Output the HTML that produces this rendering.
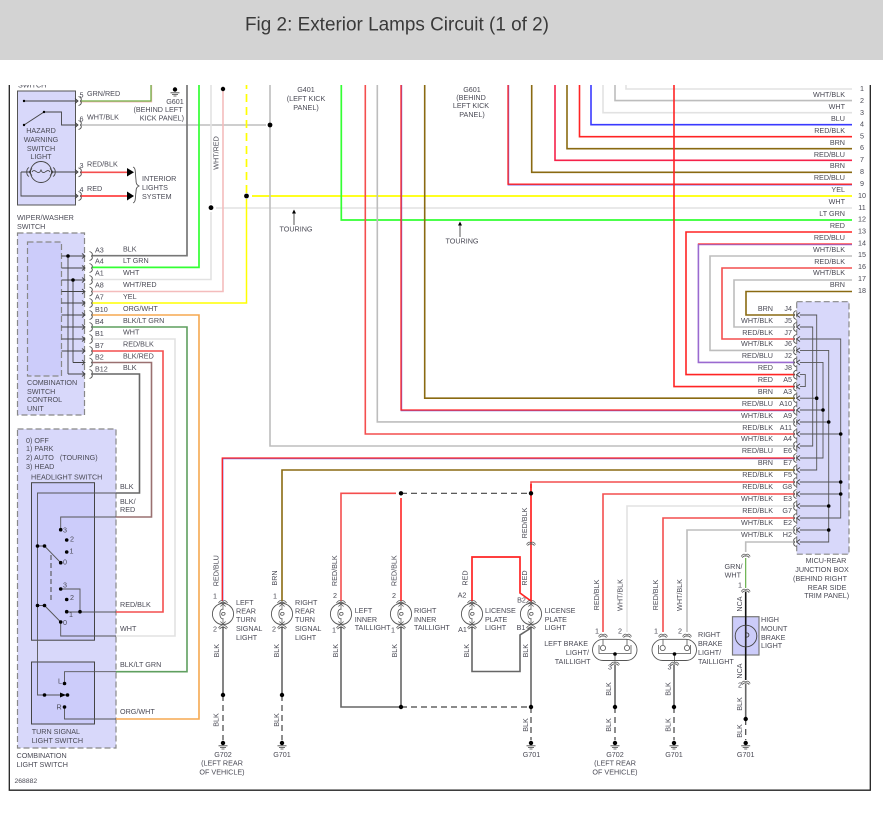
<!DOCTYPE html>
<html><head><meta charset="utf-8"><style>
html,body{margin:0;padding:0;background:#fff;width:883px;height:814px;overflow:hidden}
svg{display:block;position:absolute;left:0;top:0}
text{font-family:"Liberation Sans",sans-serif;font-size:7.2px;fill:#4a4a55;dominant-baseline:central}
.e{text-anchor:end}.m{text-anchor:middle}
.soft{filter:blur(.3px)}
.w{fill:none;stroke-width:1.6;stroke-linejoin:miter}
.red{stroke:#ff2424}.rb{stroke:#f44e4e}.rbl{stroke:#f5224a}.brn{stroke:#8a6a12}.blk{stroke:#666}.wb{stroke:#bdbdbd}.wht{stroke:#e2e2e2}.blu{stroke:#3a3aff}.yel{stroke:#ffff00;stroke-width:1.8}.grn{stroke:#33ff33;stroke-width:1.7}.org{stroke:#f5a850}.bg{stroke:#5f9f5f}.wr{stroke:#f4bcbc}
.in{fill:none;stroke:#444;stroke-width:.9}
.d{fill:#000}
.da{fill:none;stroke:#444;stroke-width:1.2;stroke-dasharray:6 4}
</style></head><body>
<svg width="883" height="814" viewBox="0 0 883 814" xmlns="http://www.w3.org/2000/svg">
<defs>
<clipPath id="cl"><rect x="0" y="85" width="883" height="729"/></clipPath>
<g id="c"><path d="M-1.5,-4.5C1.5,-3.5 2,-1.5 .5,0C2,1.5 1.5,3.5 -1.5,4.5" fill="none" stroke="#555" stroke-width=".9"/></g>
<g id="j"><path d="M1.5,-4.5C-1.5,-3.5 -2,-1.5 -.5,0C-2,1.5 -1.5,3.5 1.5,4.5" fill="none" stroke="#555" stroke-width=".9"/><path d="M5,-2.5L1.5,0L5,2.5" fill="none" stroke="#444" stroke-width=".9"/></g>
<g id="v"><path d="M-4.5,1.5C-3,-1 -1.5,-1.5 0,0C1.5,-1.5 3,-1 4.5,1.5M-3.5,2.6C-2,.8 -1,.6 0,1.2C1,.6 2,.8 3.5,2.6" fill="none" stroke="#555" stroke-width=".8"/></g>
<g id="l"><circle r="10.6" fill="#fff" stroke="#555" stroke-width=".9"/><path d="M0,-10V-4M0,10V4M-2.6,-7.5L0,-10L2.6,-7.5M-2.6,7.5L0,10L2.6,7.5" fill="none" stroke="#555" stroke-width=".7"/><path d="M-.5,-5C-4,-4 -4,3.5 -.5,5M-.5,-1.5C3,-2.5 3,2 -.5,1.2C-2,1 -1.5,-1 -.5,-1.5" fill="none" stroke="#555" stroke-width=".8"/><use href="#v" y="-12.5"/><use href="#v" y="12.5"/></g>
<g id="g"><circle r="2.2" fill="#000"/><path d="M-4.5,2.8H4.5M-3,4.4H3M-1.5,6H1.5" stroke="#444" stroke-width=".8"/></g>
</defs>

<rect x="0" y="0" width="883" height="60" fill="#d3d3d3"/>
<text x="245" y="25" style="font-size:19.2px;fill:#3a3a3a" textLength="304" lengthAdjust="spacingAndGlyphs">Fig 2: Exterior Lamps Circuit (1 of 2)</text>

<g class="soft">
<path d="M9.3,85V790.2H870.3V85" fill="none" stroke="#222" stroke-width="1.3"/>

<!-- boxes -->
<rect x="17.5" y="91" width="58" height="114" fill="#d8d8fa" stroke="#555" stroke-width="1"/>
<rect x="17.5" y="233" width="67" height="182" fill="#d8d8fa" stroke="#888" stroke-width="1.2" stroke-dasharray="6 3"/>
<rect x="27.5" y="242" width="34" height="134" fill="#ccccfa" stroke="#888" stroke-width="1.2" stroke-dasharray="6 3"/>
<rect x="17.5" y="429" width="98.5" height="319" fill="#d8d8fa" stroke="#888" stroke-width="1.2" stroke-dasharray="6 3"/>
<rect x="31.5" y="482.7" width="63" height="157.5" fill="#ccccfa" stroke="#444" stroke-width="1"/>
<rect x="31.5" y="662" width="63" height="62" fill="#ccccfa" stroke="#444" stroke-width="1"/>
<rect x="796.7" y="301.7" width="52.3" height="252.5" fill="#d8d8fa" stroke="#888" stroke-width="1.2" stroke-dasharray="6 3"/>
<rect x="732.5" y="616.7" width="26.5" height="38.3" fill="#ccccfa" stroke="#777" stroke-width="1.2"/>

<!-- top right rows -->
<path class="w wht" d="M626,85V89H852"/>
<path class="w wb" d="M615,85V100.6H852"/>
<path class="w wht" d="M603,85V112.7H852"/>
<path class="w blu" d="M591,85V124.7H852"/>
<path class="w red" d="M579.5,85V136.7H852"/>
<path class="w brn" d="M567,85V148.7H852"/>
<path class="w rbl" d="M555,85V160.3H852"/>
<path class="w brn" d="M531.7,85V172.3H852"/>
<path fill="none" stroke="#7a6ae0" stroke-width="1.6" d="M508.4,85V184.7H852"/>
<path class="w red" style="stroke-width:1.3" d="M508,85V184.2H852"/>
<path class="w yel" d="M252,196H852"/>
<path class="w wht" d="M216,208H852"/>
<path class="w grn" d="M341.3,85V220H852"/>
<path class="w red" d="M674,85V386.6H795"/>
<path class="w red" d="M852,232H686V374.6H795"/>
<path fill="none" stroke="#9a6ad0" stroke-width="1.6" d="M852,244.4H698.4V362.4H795"/>
<path class="w red" style="stroke-width:.8" d="M852,243.8H698"/>
<path class="w wb" d="M852,256H710V350.4H795"/>
<path class="w rb" d="M852,268H722V339H795"/>
<path class="w wb" d="M852,280H734V327H795"/>
<path class="w brn" d="M852,291.5H746V315H795"/>
<path class="w brn" d="M424.7,85V398.2H795"/>
<path fill="none" stroke="#7a6ae0" stroke-width="1.6" d="M401.4,85V410.4H795"/>
<path class="w red" style="stroke-width:1.3" d="M401,85V410H795"/>
<path class="w wb" d="M377.3,85V421.9H795"/>
<path class="w rb" d="M365.3,85V434H795"/>
<path class="w wb" d="M270,85V446H795"/>
<path fill="none" stroke="#7a6ae0" stroke-width="1.6" d="M795,458.4H222.6V601"/>
<path class="w red" style="stroke-width:1.3" d="M795,458H222.3V601"/>
<path class="w brn" d="M795,470H282V601"/>
<path class="w rb" d="M795,482H531V488"/>
<path class="w rb" d="M795,494H603V632"/>
<path class="w wht" d="M795,506H627V632"/>
<path class="w rb" d="M795,518H663V632"/>
<path class="w wb" d="M795,530H687V632"/>
<path class="w wb" d="M795,542H745.7V552"/>
<path fill="none" stroke="#5aa83a" stroke-width="1.1" d="M745.7,558V588"/>
<path fill="none" stroke="#111" stroke-width="1.6" d="M745.7,592V680"/>
<path class="w blk" d="M745.7,684V719"/>

<!-- left top -->
<path fill="none" stroke="#f4c0c0" stroke-width="1" d="M80,102H151.7V85"/>
<path fill="none" stroke="#6fae42" stroke-width="1.3" d="M80,101H151V85"/>
<path class="w wb" d="M80,125H266"/>
<path class="w rb" d="M80,172.3H128"/>
<path class="w red" d="M80,196H128"/>
<path class="w blk" style="stroke:#777;stroke-width:1.7" d="M92,255.7H187V85"/>
<path class="w grn" d="M92,267.4H199V85"/>
<path class="w wht" d="M92,279.5H211V212"/>
<path class="w wht" d="M211,204V85"/>
<path class="w wr" d="M92,291.5H223V89"/>
<path class="w yel" style="stroke-width:1.5" d="M92,303H246.5V199"/>
<path fill="none" stroke="#ffff00" stroke-width="1.7" stroke-dasharray="8 5" d="M246.5,193V85"/>
<path class="w org" d="M92,315H199V719H116"/>
<path class="w bg" d="M92,327H187V671.7H116"/>
<path class="w wht" d="M92,339H175V636H116"/>
<path class="w rb" d="M92,351H163V612H116"/>
<path class="w" style="stroke:#9a7070" d="M92,362.5H151.5V517H116"/>
<path class="w blk" d="M92,374H139.5V493H116"/>

<!-- dashes and lower wires -->
<path class="w rb" d="M341,601V493.3H396"/>
<path class="w red" d="M401,498V601"/>
<path class="w blk" d="M341,627V707H401"/>
<path class="w blk" d="M401,627V707"/>
<path class="w red" style="stroke-width:1.7" d="M531,484V601L520,593V557H472V601"/>
<path class="w blk" d="M472,627V671.5H520V635L531,628"/>
<path class="w blk" d="M531,627V707"/>
<path class="w blk" d="M223,627V695"/>
<path class="w blk" d="M282,627V695"/>
<path class="w blk" d="M615,665V707"/>
<path class="w blk" d="M674,665V707"/>
<g class="da">
<path d="M401,493.3H531"/><path d="M401,707H531"/>
<path d="M223,695V740"/><path d="M282,695V740"/><path d="M531,707V740"/><path d="M615,707V740"/><path d="M674,707V740"/><path d="M745.7,719V740"/>
</g>

<!-- hazard switch internals -->
<g class="in">
<path d="M24,101H78"/><path d="M75,98.5L78,101L75,103.5"/>
<path d="M24,125L44,112H61.5V125H78"/><path d="M75,122.5L78,125L75,127.5"/>
<circle cx="41" cy="172" r="10.5"/>
<path d="M51,172H78M21,172V196H78M21,172H31M32,172C35,167 38,177 41,170C44,177 47,167 50,172"/>
<path d="M75,169.5L78,172L75,174.5M75,193.5L78,196L75,198.5"/>
<path d="M29,167.5C26,169 26,175 29,176.5M53,167.5C56,169 56,175 53,176.5M32,168.5L29,172L32,175.5M50,168.5L53,172L50,175.5"/>
</g>
<circle class="d" cx="24" cy="101" r="1.2"/><circle class="d" cx="24" cy="125" r="1.2"/><circle class="d" cx="44" cy="112" r="1.2"/>
<path d="M127,168L134,172.3L127,176.5Z M127,191.5L134,196L127,200.5Z" fill="#000"/>
<path d="M133,167C136,168 135,172 136,180C136,184 137,185 139,186C137,187 136,188 136,192C135,198 136,202 133,203" fill="none" stroke="#555" stroke-width=".9"/>
<use href="#c" x="80" y="101"/><use href="#c" x="80" y="125"/><use href="#c" x="80" y="172.3"/><use href="#c" x="80" y="196"/>

<!-- control unit internals -->
<g class="in">
<path d="M61.5,256H85M61.5,268H85M61.5,280H85M61.5,291.5H85M61.5,303H85M61.5,315H85M61.5,327H85M61.5,339H85M61.5,351H85M73,362.5H85M68,374H85"/>
<path d="M68,256V374M73,280V362.5"/>
<path d="M82,253.5L85,256L82,258.5M82,265.5L85,268L82,270.5M82,277.5L85,280L82,282.5M82,289L85,291.5L82,294M82,300.5L85,303L82,305.5M82,312.5L85,315L82,317.5M82,324.5L85,327L82,329.5M82,336.5L85,339L82,341.5M82,348.5L85,351L82,353.5M82,360L85,362.5L82,365M82,371.5L85,374L82,376.5"/>
</g>
<circle class="d" cx="68" cy="256" r="1.8"/><circle class="d" cx="73" cy="280" r="1.8"/>
<use href="#c" x="91" y="256"/><use href="#c" x="91" y="268"/><use href="#c" x="91" y="280"/><use href="#c" x="91" y="291.5"/><use href="#c" x="91" y="303"/><use href="#c" x="91" y="315"/><use href="#c" x="91" y="327"/><use href="#c" x="91" y="339"/><use href="#c" x="91" y="351"/><use href="#c" x="91" y="362.5"/><use href="#c" x="91" y="374"/>

<!-- headlight switch internals -->
<g class="in" style="stroke:#555">
<path d="M116,493H37.5V695H67.5"/>
<path d="M116,517H60.7V529.7"/>
<path d="M37.5,546H44.5L60.7,562.7"/>
<path d="M37.5,605.5H44.5L60.7,622"/>
<path d="M60.7,589H80V611.7"/>
<path d="M66.7,612H116"/>
<path d="M60.7,622V636H116"/>
<path d="M51,555V600" stroke-dasharray="5 3" style="stroke-width:1.1"/>
<path d="M116,671.7H64.5V683.5"/>
<path d="M116,719H64.5V707"/>
</g>
<path d="M60,692.5L66,695L60,697.5Z" fill="#000"/>
<g class="d">
<circle cx="60.7" cy="529.7" r="1.8"/><circle cx="66.7" cy="540" r="1.8"/><circle cx="66.7" cy="552" r="1.8"/><circle cx="60.7" cy="562.7" r="1.8"/>
<circle cx="37.5" cy="546" r="1.8"/><circle cx="44.5" cy="546" r="1.8"/><circle cx="37.5" cy="605.5" r="1.8"/><circle cx="44.5" cy="605.5" r="1.8"/>
<circle cx="60.7" cy="589" r="1.8"/><circle cx="66.7" cy="599.5" r="1.8"/><circle cx="66.7" cy="611.7" r="1.8"/><circle cx="60.7" cy="622" r="1.8"/><circle cx="80" cy="611.7" r="1.8"/>
<circle cx="64.5" cy="683.5" r="1.8"/><circle cx="64.5" cy="707" r="1.8"/><circle cx="44.5" cy="695" r="1.8"/><circle cx="67.5" cy="695" r="1.8"/>
</g>

<!-- junction internals -->
<g class="in" style="stroke:#555">
<path d="M800,315H816.7V470H800"/>
<path d="M800,327H812.7V446H800"/>
<path d="M800,339H840.7V518H800"/>
<path d="M800,350.4H828.7V542H800"/>
<path d="M800,362.4H823V458H800"/>
<path d="M800,374.6H805.3V386.6H800"/>
<path d="M800,398.2H816.7M800,410H823M800,422H828.7M800,434H840.7M800,482H840.7M800,494H840.7M800,506H828.7M800,530H828.7"/>
</g>
<g class="d">
<circle cx="816.7" cy="398.2" r="1.8"/><circle cx="823" cy="410" r="1.8"/><circle cx="828.7" cy="422" r="1.8"/><circle cx="840.7" cy="434" r="1.8"/><circle cx="840.7" cy="482" r="1.8"/><circle cx="840.7" cy="494" r="1.8"/><circle cx="828.7" cy="506" r="1.8"/><circle cx="828.7" cy="530" r="1.8"/>
</g>
<use href="#j" x="795" y="315"/><use href="#j" x="795" y="327"/><use href="#j" x="795" y="339"/><use href="#j" x="795" y="350.4"/><use href="#j" x="795" y="362.4"/><use href="#j" x="795" y="374.6"/><use href="#j" x="795" y="386.6"/><use href="#j" x="795" y="398.2"/><use href="#j" x="795" y="410"/><use href="#j" x="795" y="422"/><use href="#j" x="795" y="434"/><use href="#j" x="795" y="446"/><use href="#j" x="795" y="458"/><use href="#j" x="795" y="470"/><use href="#j" x="795" y="482"/><use href="#j" x="795" y="494"/><use href="#j" x="795" y="506"/><use href="#j" x="795" y="518"/><use href="#j" x="795" y="530"/><use href="#j" x="795" y="542"/>

<!-- lamps -->
<use href="#l" x="223" y="614"/><use href="#l" x="282" y="614"/><use href="#l" x="341" y="614"/><use href="#l" x="401" y="614"/><use href="#l" x="472" y="614"/><use href="#l" x="531" y="614"/>
<use href="#v" x="531" y="543"/><use href="#v" x="745.7" y="555"/><use href="#v" x="745.7" y="590"/><use href="#v" x="745.7" y="682"/>
<circle cx="746" cy="636" r="10.8" fill="none" stroke="#444" stroke-width=".9"/>
<path d="M745.7,626V646M745.7,633C750,632 750,638 745.7,637" fill="none" stroke="#333" stroke-width=".8"/>

<!-- brake lights -->
<g fill="#fff" stroke="#555" stroke-width=".9">
<rect x="592.5" y="639.3" width="44.5" height="21.2" rx="10.6"/>
<rect x="652" y="639.3" width="44.5" height="21.2" rx="10.6"/>
</g>
<g fill="none" stroke="#555" stroke-width=".8">
<path d="M599,645V653.5H631V645M615,653.5V662"/>
<path d="M658.5,645V653.5H690.5V645M674.5,653.5V662"/>
<circle cx="603" cy="648" r="2.6"/><circle cx="627" cy="648" r="2.6"/><circle cx="662.7" cy="648" r="2.6"/><circle cx="687" cy="648" r="2.6"/>
<path d="M603,639V645.5M627,639V645.5M663,639V645.5M687,639V645.5"/>
</g>
<circle class="d" cx="615" cy="654" r="1.8"/><circle class="d" cx="674.5" cy="654" r="1.8"/>
<use href="#v" x="603" y="635"/><use href="#v" x="627" y="635"/><use href="#v" x="663" y="635"/><use href="#v" x="687" y="635"/><use href="#v" x="615" y="663"/><use href="#v" x="674.5" y="663"/>

<!-- dots -->
<g class="d">
<circle cx="175" cy="89.5" r="2.2"/>
<circle cx="223" cy="89" r="2.2"/><circle cx="270" cy="125" r="2.4"/><circle cx="246.5" cy="196" r="2.4"/><circle cx="211" cy="207.7" r="2.4"/>
<circle cx="401" cy="493.3" r="2.2"/><circle cx="531" cy="493.3" r="2.2"/><circle cx="401" cy="707" r="2.2"/><circle cx="531" cy="707" r="2.2"/>
<circle cx="223" cy="695" r="2.2"/><circle cx="282" cy="695" r="2.2"/><circle cx="615" cy="707" r="2.2"/><circle cx="674" cy="707" r="2.2"/><circle cx="745.7" cy="719" r="2.2"/>
</g>
<path d="M170.5,92.8H179.5M172,94.4H178M173.5,96H176.5" stroke="#444" stroke-width=".8"/>
<use href="#g" x="223" y="743"/><use href="#g" x="282" y="743"/><use href="#g" x="531" y="743"/><use href="#g" x="615" y="743"/><use href="#g" x="674" y="743"/><use href="#g" x="745.7" y="743"/>

<!-- touring arrows -->
<path d="M294,225V213" stroke="#444" stroke-width=".9"/><path d="M294,209.5L296,213.5H292Z" fill="#000"/>
<path d="M460,237V225" stroke="#444" stroke-width=".9"/><path d="M460,221.5L462,225.5H458Z" fill="#000"/>

<!-- text: hazard -->
<text x="18" y="85" clip-path="url(#cl)">SWITCH</text>
<text x="79.5" y="95">5</text><text x="79.5" y="119">6</text><text x="79.5" y="165.5">3</text><text x="79.5" y="189.5">4</text>
<text x="87" y="93.3">GRN/RED</text><text x="87" y="117">WHT/BLK</text><text x="87" y="164">RED/BLK</text><text x="87" y="188.5">RED</text>
<text class="m" x="175" y="101.3">G601</text><text class="m" x="158" y="109.5">(BEHIND LEFT</text><text class="e" x="184" y="118">KICK PANEL)</text>
<text class="m" x="41" y="130.5">HAZARD</text><text class="m" x="41" y="139.5">WARNING</text><text class="m" x="41" y="148.5">SWITCH</text><text class="m" x="41" y="156.5">LIGHT</text>
<text x="142" y="178.7">INTERIOR</text><text x="142" y="187.7">LIGHTS</text><text x="142" y="196.7">SYSTEM</text>
<text x="17" y="217.5">WIPER/WASHER</text><text x="17" y="226.5">SWITCH</text>
<text x="27" y="382.5">COMBINATION</text><text x="27" y="391.5">SWITCH</text><text x="27" y="399.5">CONTROL</text><text x="27" y="408.5">UNIT</text>
<text x="95" y="250">A3</text><text x="95" y="261">A4</text><text x="95" y="273">A1</text><text x="95" y="285">A8</text><text x="95" y="297">A7</text><text x="95" y="309.5">B10</text><text x="95" y="321.5">B4</text><text x="95" y="333.5">B1</text><text x="95" y="345.5">B7</text><text x="95" y="357">B2</text><text x="95" y="369">B12</text>
<text x="123" y="249">BLK</text><text x="123" y="260.5">LT GRN</text><text x="123" y="272.5">WHT</text><text x="123" y="284.5">WHT/RED</text><text x="123" y="296.5">YEL</text><text x="123" y="308.5">ORG/WHT</text><text x="123" y="320.5">BLK/LT GRN</text><text x="123" y="332">WHT</text><text x="123" y="344">RED/BLK</text><text x="123" y="356">BLK/RED</text><text x="123" y="367.5">BLK</text>
<text class="m" transform="translate(216,153) rotate(-90)">WHT/RED</text>

<text class="m" x="306" y="89.5">G401</text><text class="m" x="306" y="98.5">(LEFT KICK</text><text class="m" x="306" y="107.5">PANEL)</text>
<text class="m" x="472" y="89.5">G601</text><text class="m" x="471" y="97.7">(BEHIND</text><text class="m" x="471" y="105.7">LEFT KICK</text><text class="m" x="472" y="114.3">PANEL)</text>
<text class="m" x="296" y="229">TOURING</text><text class="m" x="462" y="241">TOURING</text>

<!-- right rows labels -->
<text class="e" x="845" y="94.3">WHT/BLK</text><text class="e" x="845" y="106.5">WHT</text><text class="e" x="845" y="118.5">BLU</text><text class="e" x="845" y="130.5">RED/BLK</text><text class="e" x="845" y="142.5">BRN</text><text class="e" x="845" y="154.5">RED/BLU</text><text class="e" x="845" y="165.5">BRN</text><text class="e" x="845" y="177.5">RED/BLU</text><text class="e" x="845" y="189.5">YEL</text><text class="e" x="845" y="201.5">WHT</text><text class="e" x="845" y="213.5">LT GRN</text><text class="e" x="845" y="225.5">RED</text><text class="e" x="845" y="237.5">RED/BLU</text><text class="e" x="845" y="249.5">WHT/BLK</text><text class="e" x="845" y="261.5">RED/BLK</text><text class="e" x="845" y="272.5">WHT/BLK</text><text class="e" x="845" y="284.5">BRN</text>
<text class="m" x="862" y="88.7">1</text><text class="m" x="862" y="100.7">2</text><text class="m" x="862" y="112.7">3</text><text class="m" x="862" y="124">4</text><text class="m" x="862" y="136">5</text><text class="m" x="862" y="147.5">6</text><text class="m" x="862" y="159.5">7</text><text class="m" x="862" y="171.5">8</text><text class="m" x="862" y="183.5">9</text><text class="m" x="862" y="195.5">10</text><text class="m" x="862" y="207.5">11</text><text class="m" x="862" y="219">12</text><text class="m" x="862" y="231">13</text><text class="m" x="862" y="243">14</text><text class="m" x="862" y="254.5">15</text><text class="m" x="862" y="266.5">16</text><text class="m" x="862" y="278.5">17</text><text class="m" x="862" y="290.5">18</text>

<!-- junction labels -->
<text class="e" x="773" y="308.7">BRN</text><text class="e" x="792" y="308.7">J4</text>
<text class="e" x="773" y="320.5">WHT/BLK</text><text class="e" x="792" y="320.5">J5</text>
<text class="e" x="773" y="332.5">RED/BLK</text><text class="e" x="792" y="332.5">J7</text>
<text class="e" x="773" y="343.5">WHT/BLK</text><text class="e" x="792" y="343.5">J6</text>
<text class="e" x="773" y="355.5">RED/BLU</text><text class="e" x="792" y="355.5">J2</text>
<text class="e" x="773" y="367.5">RED</text><text class="e" x="792" y="367.5">J8</text>
<text class="e" x="773" y="379.5">RED</text><text class="e" x="792" y="379.5">A5</text>
<text class="e" x="773" y="391.5">BRN</text><text class="e" x="792" y="391.5">A3</text>
<text class="e" x="773" y="403.5">RED/BLU</text><text class="e" x="792" y="403.5">A10</text>
<text class="e" x="773" y="415.5">WHT/BLK</text><text class="e" x="792" y="415.5">A9</text>
<text class="e" x="773" y="427.5">RED/BLK</text><text class="e" x="792" y="427.5">A11</text>
<text class="e" x="773" y="438.5">WHT/BLK</text><text class="e" x="792" y="438.5">A4</text>
<text class="e" x="773" y="450.5">RED/BLU</text><text class="e" x="792" y="450.5">E6</text>
<text class="e" x="773" y="462.5">BRN</text><text class="e" x="792" y="462.5">E7</text>
<text class="e" x="773" y="474.5">RED/BLK</text><text class="e" x="792" y="474.5">F5</text>
<text class="e" x="773" y="486.5">RED/BLK</text><text class="e" x="792" y="486.5">G8</text>
<text class="e" x="773" y="498.5">WHT/BLK</text><text class="e" x="792" y="498.5">E3</text>
<text class="e" x="773" y="510.5">RED/BLK</text><text class="e" x="792" y="510.5">G7</text>
<text class="e" x="773" y="522.5">WHT/BLK</text><text class="e" x="792" y="522.5">E2</text>
<text class="e" x="773" y="534.5">WHT/BLK</text><text class="e" x="792" y="534.5">H2</text>
<text class="m" x="826" y="560.7">MICU-REAR</text><text class="m" x="822" y="569.7">JUNCTION BOX</text><text class="m" x="820" y="578.5">(BEHIND RIGHT</text><text class="m" x="827" y="587.5">REAR SIDE</text><text class="m" x="826.7" y="595.5">TRIM PANEL)</text>

<!-- combination switch labels -->
<text x="26" y="440.7">0) OFF</text><text x="26" y="448.5">1) PARK</text><text x="26" y="457.5" xml:space="preserve">2) AUTO   (TOURING)</text><text x="26" y="466.5">3) HEAD</text>
<text x="31" y="477">HEADLIGHT SWITCH</text>
<text x="63" y="530">3</text><text x="70" y="539">2</text><text x="69.5" y="551">1</text><text x="63" y="562">0</text>
<text x="63" y="585">3</text><text x="70" y="597.5">2</text><text x="69" y="614.5">1</text><text x="63" y="622.5">0</text>
<text x="58" y="681">L</text><text x="56.5" y="707">R</text>
<text x="120" y="486.5">BLK</text><text x="120" y="501.5">BLK/</text><text x="120" y="509.5">RED</text><text x="120" y="604.5">RED/BLK</text><text x="120" y="628.5">WHT</text><text x="120" y="664.5">BLK/LT GRN</text><text x="120" y="711.5">ORG/WHT</text>
<text x="31.7" y="731.5">TURN SIGNAL</text><text x="31.7" y="740.5">LIGHT SWITCH</text>
<text x="16.5" y="755.5">COMBINATION</text><text x="16.5" y="764.5">LIGHT SWITCH</text>
<text x="14.5" y="781.5" style="font-size:6.8px">268882</text>

<!-- lamp labels -->
<text class="m" transform="translate(216,570.7) rotate(-90)">RED/BLU</text><text class="m" transform="translate(274.5,578) rotate(-90)">BRN</text>
<text class="m" transform="translate(334.5,570.7) rotate(-90)">RED/BLK</text><text class="m" transform="translate(394,570.7) rotate(-90)">RED/BLK</text>
<text class="m" transform="translate(465,578) rotate(-90)">RED</text><text class="m" transform="translate(524.5,578) rotate(-90)">RED</text>
<text class="m" transform="translate(524.7,523) rotate(-90)">RED/BLK</text>
<text class="m" transform="translate(216.5,650.7) rotate(-90)">BLK</text><text class="m" transform="translate(276.5,650.7) rotate(-90)">BLK</text><text class="m" transform="translate(335.5,650.7) rotate(-90)">BLK</text><text class="m" transform="translate(394.7,650.7) rotate(-90)">BLK</text><text class="m" transform="translate(466.5,650.7) rotate(-90)">BLK</text><text class="m" transform="translate(525.5,650.7) rotate(-90)">BLK</text>
<text class="m" transform="translate(216,720) rotate(-90)">BLK</text><text class="m" transform="translate(276.5,720) rotate(-90)">BLK</text><text class="m" transform="translate(525.5,725) rotate(-90)">BLK</text>
<text class="m" transform="translate(596.5,595) rotate(-90)">RED/BLK</text><text class="m" transform="translate(620,595) rotate(-90)">WHT/BLK</text><text class="m" transform="translate(655.5,595) rotate(-90)">RED/BLK</text><text class="m" transform="translate(679.5,595) rotate(-90)">WHT/BLK</text>
<text class="m" transform="translate(608.5,689) rotate(-90)">BLK</text><text class="m" transform="translate(608.5,725) rotate(-90)">BLK</text><text class="m" transform="translate(668,689) rotate(-90)">BLK</text><text class="m" transform="translate(668,725) rotate(-90)">BLK</text>
<text class="m" transform="translate(739.5,604) rotate(-90)">NCA</text><text class="m" transform="translate(739.5,671) rotate(-90)">NCA</text><text class="m" transform="translate(739.5,704) rotate(-90)">BLK</text><text class="m" transform="translate(739.5,731) rotate(-90)">BLK</text>
<text class="m" x="215" y="596">1</text><text class="m" x="215" y="629">2</text><text class="m" x="275" y="596">1</text><text class="m" x="274" y="629">2</text><text class="m" x="335" y="595.5">2</text><text class="m" x="334" y="630">1</text><text class="m" x="394" y="595.5">2</text><text class="m" x="393" y="630">1</text>
<text class="m" x="462" y="595">A2</text><text class="m" x="462.5" y="629.5">A1</text><text class="m" x="521.5" y="600">B2</text><text class="m" x="521" y="627.5">B1</text>
<text class="m" x="597" y="631">1</text><text class="m" x="620" y="631">2</text><text class="m" x="610" y="667">3</text><text class="m" x="656" y="631">1</text><text class="m" x="680" y="631">2</text><text class="m" x="669.5" y="667">3</text><text class="m" x="740" y="685">2</text>
<text x="236" y="602.3">LEFT</text><text x="236" y="611">REAR</text><text x="236" y="619.7">TURN</text><text x="236" y="628.7">SIGNAL</text><text x="236" y="637.5">LIGHT</text>
<text x="295" y="602.3">RIGHT</text><text x="295" y="611">REAR</text><text x="295" y="619.7">TURN</text><text x="295" y="628.7">SIGNAL</text><text x="295" y="637.5">LIGHT</text>
<text x="354.7" y="610.7">LEFT</text><text x="354.7" y="619.5">INNER</text><text x="354.7" y="627.5">TAILLIGHT</text>
<text x="414" y="610.7">RIGHT</text><text x="414" y="619.5">INNER</text><text x="414" y="627.5">TAILLIGHT</text>
<text x="485" y="610.7">LICENSE</text><text x="485" y="619.5">PLATE</text><text x="485" y="627.5">LIGHT</text>
<text x="544.7" y="610.7">LICENSE</text><text x="544.7" y="619.5">PLATE</text><text x="544.7" y="627.5">LIGHT</text>
<text class="e" x="588" y="643.5">LEFT BRAKE</text><text class="e" x="589" y="652.5">LIGHT/</text><text class="e" x="590.5" y="661.5">TAILLIGHT</text>
<text x="698" y="634.5">RIGHT</text><text x="698" y="643.5">BRAKE</text><text x="698" y="652.5">LIGHT/</text><text x="698" y="661.5">TAILLIGHT</text>
<text class="e" x="742.5" y="566.5">GRN/</text><text class="e" x="741" y="575">WHT</text><text class="e" x="742" y="585">1</text>
<text x="761" y="619.5">HIGH</text><text x="761" y="628.5">MOUNT</text><text x="761" y="637.5">BRAKE</text><text x="761" y="645.5">LIGHT</text>
<text class="m" x="223" y="754.5">G702</text><text class="m" x="222" y="763">(LEFT REAR</text><text class="m" x="222" y="772">OF VEHICLE)</text>
<text class="m" x="282" y="754.5">G701</text><text class="m" x="531.5" y="754.5">G701</text>
<text class="m" x="615" y="754.5">G702</text><text class="m" x="615" y="763">(LEFT REAR</text><text class="m" x="615" y="772">OF VEHICLE)</text>
<text class="m" x="674" y="754.5">G701</text><text class="m" x="745.7" y="754.5">G701</text>
</g>
</svg>
</body></html>
